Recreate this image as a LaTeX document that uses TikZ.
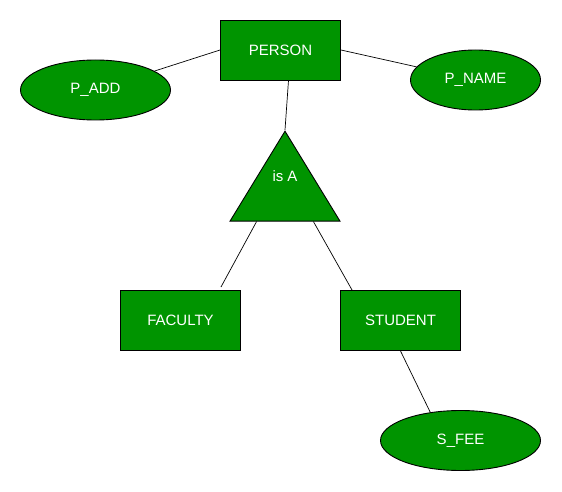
\documentclass[tikz,border=0pt]{standalone}
\usepackage{fontspec}
\setmainfont{Liberation Sans}
\usetikzlibrary{shapes.geometric,calc}
\definecolor{ergreen}{RGB}{0,148,0}

\begin{document}
\begin{tikzpicture}[x=1pt, y=-1pt,
                    base/.style={draw=black, fill=ergreen, text=white, line width=0.9pt, inner sep=0pt, font=\fontsize{15}{17}\selectfont},
                    entity/.style={base, rectangle, minimum width=120, minimum height=60},
                    attrib/.style={base, ellipse, minimum height=60},
                    isa/.style={base, isosceles triangle, shape border rotate=90, isosceles triangle stretches, minimum width=110, minimum height=90}]
                      \useasboundingbox (0, 0) rectangle (562, 492);

                      \node[entity] (person) at (280.5, 50) {PERSON};
                      \node[attrib, minimum width=150] (padd) at (95.5, 90) {P\_ADD};
                      \node[attrib, minimum width=130] (pname) at (475.5, 80) {P\_NAME};

                      \node[isa, anchor=apex] (isa) at (285, 130) {};
                      \node[text=white, inner sep=0pt, font=\fontsize{15}{17}\selectfont] (isalabel) at ($(isa.apex)!0.5!(isa.lower side)$) {is A};

                      \node[entity] (faculty) at (180.5, 320.5) {FACULTY};
                      \node[entity] (student) at (400.5, 320.5) {STUDENT};
                      \node[attrib, minimum width=160] (sfee) at (460.5, 440.5) {S\_FEE};

                      \draw[line width=0.7pt] (person.west) -- (padd);
                      \draw[line width=0.7pt] (person.east) -- (pname);
                      \draw[line width=0.7pt] ($(person.south)+(8, 0)$) -- (isa.apex);

                      \draw[line width=0.7pt] ($(isa.left corner)!0.245!(isa.right corner)$) -- ($(faculty.north east)+(-20, -3)$);
                      \draw[line width=0.7pt] ($(isa.left corner)!0.755!(isa.right corner)$) -- ($(student.north west)+(12, 0)$);

                      \draw[line width=0.7pt] (student.south) -- (sfee.137);
                  \end{tikzpicture}
\end{document}
